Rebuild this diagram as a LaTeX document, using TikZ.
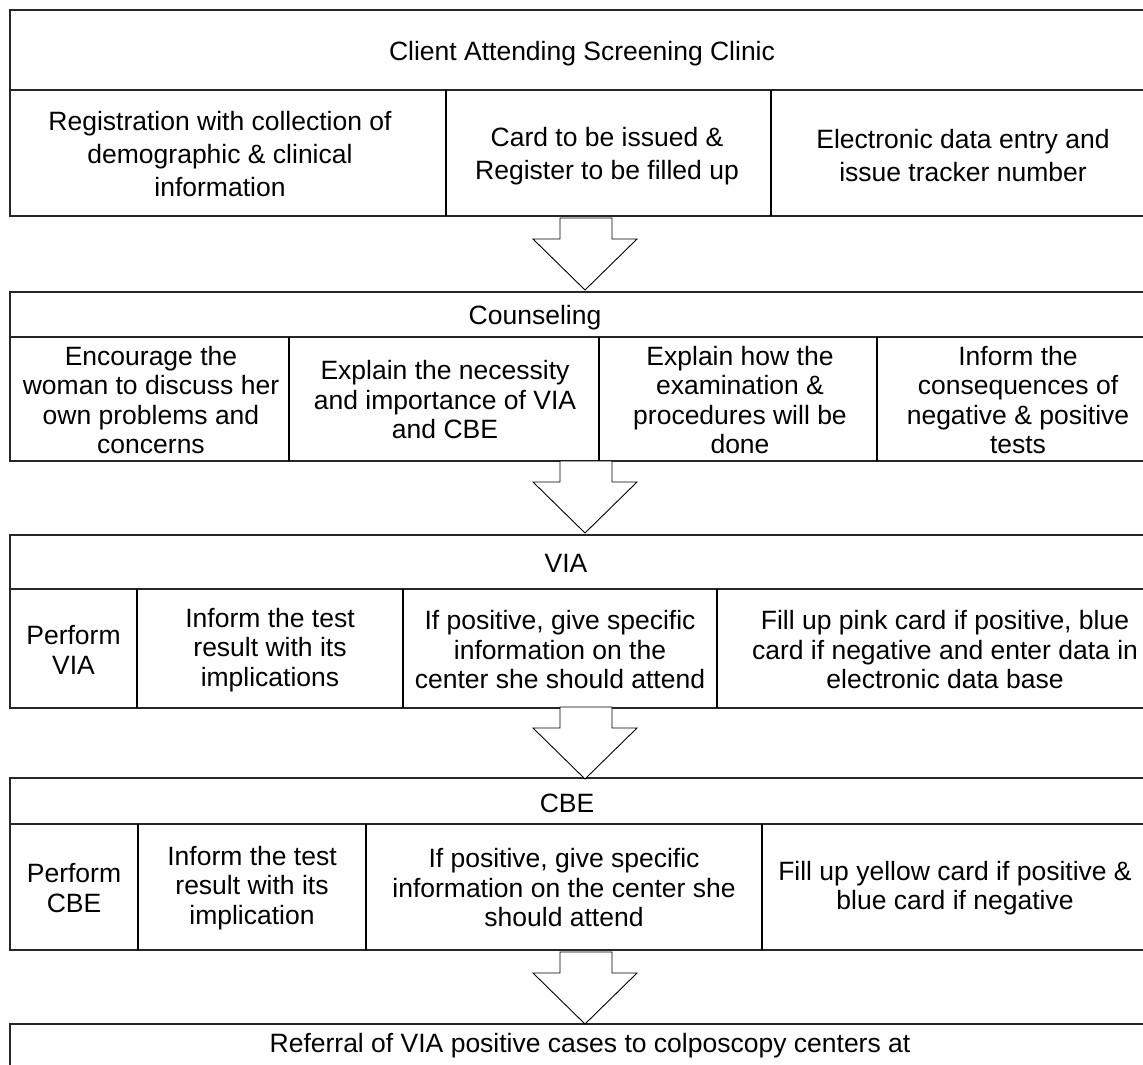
\documentclass[tikz,border=0pt]{standalone}
\usepackage{fontspec}
\setmainfont{Liberation Sans}
\begin{document}
\begin{tikzpicture}[x=1pt,y=-1pt,
  box/.style={draw=black!85, line width=1.2pt},
  sep/.style={draw=black, line width=1.2pt},
  txt/.style={align=center, font=\fontsize{26.5}{29.5}\selectfont, inner sep=0pt},
  txtwide/.style={align=center, font=\fontsize{26.5}{33}\selectfont, inner sep=0pt},
  arr/.style={draw=black, line width=0.9pt, fill=white, line join=miter}]
\useasboundingbox (0,0) rectangle (1143,1065);
\clip (0,0) rectangle (1143,1065);
\fill[white] (0,0) rectangle (1143,1065);

% Section 1
\draw[box] (10,10) rectangle (1170,216);
\draw[box] (10,90) -- (1170,90);
\draw[sep] (446,90) -- (446,216);
\draw[sep] (771,90) -- (771,216);
\node[txt] (t1) at (582,54) {Client Attending Screening Clinic};
\node[txtwide] (c11) at (220,154) {Registration with collection of\\demographic \& clinical\\information};
\node[txtwide] (c12) at (607,156) {Card to be issued \&\\Register to be filled up};
\node[txtwide] (c13) at (963,156) {Electronic data entry and\\issue tracker number};

% Section 2
\draw[box] (10,292) rectangle (1170,461);
\draw[box] (10,337) -- (1170,337);
\draw[sep] (289,337) -- (289,461);
\draw[sep] (599,337) -- (599,461);
\draw[sep] (877,337) -- (877,461);
\node[txt] (t2) at (535,318) {Counseling};
\node[txt] (c21) at (151,400) {Encourage the\\woman to discuss her\\own problems and\\concerns};
\node[txt] (c22) at (445,400) {Explain the necessity\\and importance of VIA\\and CBE};
\node[txt] (c23) at (740,400) {Explain how the\\examination \&\\procedures will be\\done};
\node[txt] (c24) at (1018,400) {Inform the\\consequences of\\negative \& positive\\tests};

% Section 3
\draw[box] (10,535) rectangle (1170,708);
\draw[box] (10,589) -- (1170,589);
\draw[sep] (137,589) -- (137,708);
\draw[sep] (403,589) -- (403,708);
\draw[sep] (717,589) -- (717,708);
\node[txt] (t3) at (566,563) {VIA};
\node[txt] (c31) at (73.5,650) {Perform\\VIA};
\node[txt] (c32) at (270,650) {Inform the test\\result with its\\implications};
\node[txt] (c33) at (560,650) {If positive, give specific\\information on the\\center she should attend};
\node[txt] (c34) at (945,650) {Fill up pink card if positive, blue\\card if negative and enter data in\\electronic data base};

% Section 4
\draw[box] (10,778) rectangle (1170,950);
\draw[box] (10,824) -- (1170,824);
\draw[sep] (138,824) -- (138,950);
\draw[sep] (366,824) -- (366,950);
\draw[sep] (762,824) -- (762,950);
\node[txt] (t4) at (567,803) {CBE};
\node[txt] (c41) at (74,888) {Perform\\CBE};
\node[txt] (c42) at (252,888) {Inform the test\\result with its\\implication};
\node[txt] (c43) at (564,888) {If positive, give specific\\information on the center she\\should attend};
\node[txt] (c44) at (955,888) {Fill up yellow card if positive \&\\blue card if negative};

% Section 5
\draw[box] (10,1024) rectangle (1170,1100);
\node[txt] (t5) at (590,1046) {Referral of VIA positive cases to colposcopy centers at};

% Block arrows
\foreach \y in {218,461,707,952}
  \draw[arr] (560,\y) -- (612,\y) -- (612,\y+21) -- (637,\y+21) -- (585,\y+72)
    -- (533,\y+21) -- (560,\y+21) -- cycle;
\end{tikzpicture}
\end{document}
